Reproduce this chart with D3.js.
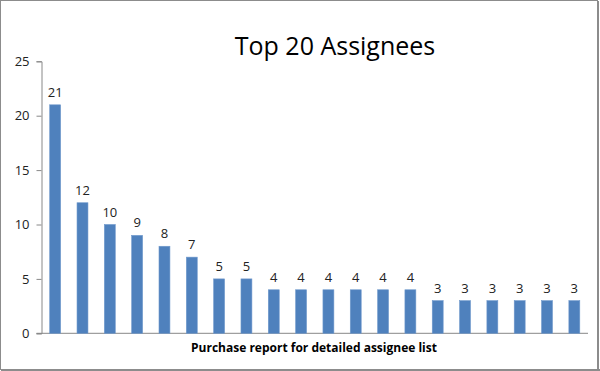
<!DOCTYPE html>
<html><head><meta charset="utf-8">
<script src="https://cdn.jsdelivr.net/npm/d3@7"></script>
<style>body{margin:0;background:#fff}svg{display:block}</style>
</head><body><svg id="c" width="600" height="371"></svg>
<script>
const categories = d3.range(1, 21).map(i => "A" + i);
const values = [21,12,10,9,8,7,5,5,4,4,4,4,4,4,3,3,3,3,3,3];
const yTicks = [0,5,10,15,20,25];
const title = "Top 20 Assignees";
const xTitle = "Purchase report for detailed assignee list";

const svg = d3.select("#c");
const font = "'Open Sans', sans-serif";
// frame
svg.append("rect").attr("x",0.5).attr("y",0.5).attr("width",597).attr("height",369)
  .attr("fill","#fff").attr("stroke","#8c8c8c").attr("stroke-width",1);
svg.append("line").attr("x1",598).attr("x2",598).attr("y1",1).attr("y2",371).attr("stroke","#8c8c8c").attr("stroke-width",2);
svg.append("line").attr("x1",1).attr("x2",600).attr("y1",370).attr("y2",370).attr("stroke","#8c8c8c").attr("stroke-width",2);

const L = 41.5, R = 588, T = 61.3, B = 333.3;
const x = d3.scaleBand().domain(categories).range([L, R]).paddingInner(0.6).paddingOuter(0.3);
const y = d3.scaleLinear().domain([0,25]).range([B, T]);

const ya = svg.append("g").attr("transform",`translate(${L},0)`)
  .call(d3.axisLeft(y).tickValues(yTicks).tickSize(5).tickPadding(7));
ya.select(".domain").attr("stroke","#888");
ya.selectAll(".tick line").attr("stroke","#888");
ya.selectAll(".tick text").attr("font-family",font).attr("font-size",13).attr("fill","#222");

svg.append("line").attr("x1",36.5).attr("x2",R).attr("y1",y(0)).attr("y2",y(0)).attr("stroke","#888");

svg.append("g").selectAll("rect").data(values).join("rect")
  .attr("x",(d,i)=>x(categories[i])).attr("width",x.bandwidth())
  .attr("y",d=>y(d)).attr("height",d=>y(0)-y(d))
  .attr("fill","#4f81bd").attr("stroke","#6f98cc").attr("stroke-width",0.6);

svg.append("g").selectAll("text").data(values).join("text")
  .attr("x",(d,i)=>x(categories[i])+x.bandwidth()/2).attr("y",d=>y(d)-8)
  .attr("text-anchor","middle").attr("font-family",font).attr("font-size",13).attr("fill","#222")
  .text(d=>d);

svg.append("text").attr("x",335).attr("y",55).attr("text-anchor","middle")
  .attr("font-family",font).attr("font-size",25).attr("fill","#000").text(title);
svg.append("text").attr("x",314).attr("y",352).attr("text-anchor","middle")
  .attr("font-family",font).attr("font-size",12).attr("font-weight","bold").attr("fill","#000").text(xTitle);
</script></body></html>
